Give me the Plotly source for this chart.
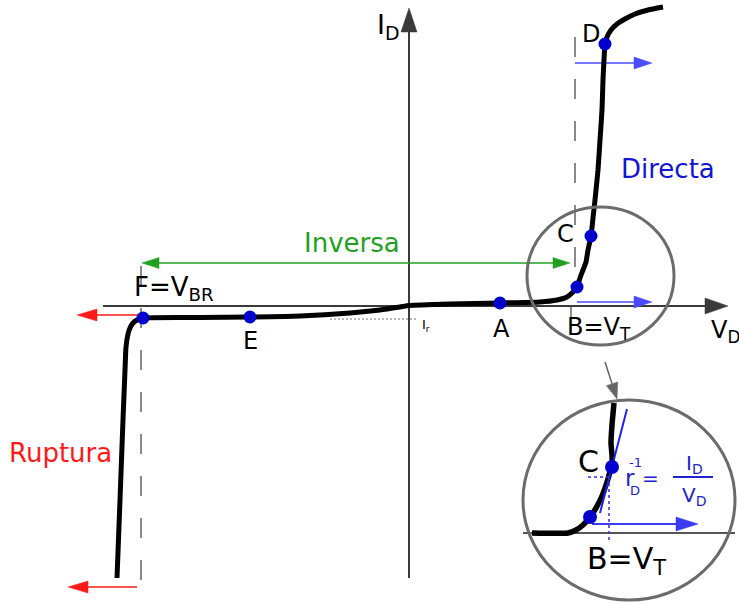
import numpy as np
import plotly.graph_objects as go

# Diagram frame: origin where the V_D and I_D axes cross, 1 unit = 1 px
X_RANGE = [-409, 330]
Y_RANGE = [-298, 306]

# Main diode characteristic (V, I) in diagram units
curve_v = [-292, -289, -286, -284, -283, -281, -279, -276, -272, -266,
           -209, -159, -109, -59, -29, -9, 0, 41, 91, 131, 148, 158, 164,
           168, 171, 174, 177, 179, 182, 184, 186, 189, 191, 193, 194, 195,
           196, 198, 202, 208, 216, 226, 239, 254]
curve_i = [-272, -194, -114, -64, -41, -28, -22, -17, -14, -12,
           -11.5, -11, -10, -7, -4, -1, 0.5, 2, 3, 4, 6, 9, 14,
           19, 28, 36, 44, 56, 70, 88, 106, 136, 166, 196, 226, 246,
           262, 269, 276, 282, 287, 292, 296, 299]

# Named operating points on the characteristic
pt_names = ["F", "E", "A", "B", "C", "D"]
pt_v = [-266, -159, 91, 168, 182, 196]
pt_i = [-12, -11, 3, 19, 70, 262]

# Magnified view of the knee (inset)
inset_v = [123, 159, 167, 174, 181, 187, 193, 198, 201, 203, 203, 202, 203, 205]
inset_i = [-227, -227, -224, -219, -211, -202, -190, -176, -166, -161,
           -149, -137, -119, -97]
inset_pt_v = [181, 203]
inset_pt_i = [-211, -161]
tangent_v = [191, 218]
tangent_i = [-207, -103]

# Arrows: (v0, i0, v1, i1, colour, width, head length, head half-width)
arrows = [
    (-306, 0, 319, 0, "#3a3a3a", 2, 23, 8),          # V_D axis
    (0, -272, 0, 298, "#3a3a3a", 2, 24, 8),          # I_D axis
    (-271, -9, -332, -9, "#ff1a1a", 1.5, 20, 6),     # breakdown arrow
    (-272, -281, -341, -281, "#ff1a1a", 1.5, 20, 6), # breakdown arrow, low
    (166, 243, 243, 243, "#4a4aff", 1.5, 18, 6),     # forward arrow at D
    (168, 4, 243, 4, "#4a4aff", 1.5, 18, 6),         # forward arrow at B
    (183, -218, 289, -218, "#3a3aee", 2, 22, 7),     # inset arrow
    (196, -56, 208, -93, "#666666", 1.5, 16, 6),     # zoom pointer
]
# Two-headed "Inversa" span
inversa_span = (-267, 161, 43)
inversa_color = "#22a022"

# Dashed guides (v, i_low, i_high)
guides = [(-268, -274, 43), (166, 39, 277)]

# Magnifier circles (v0, i0, v1, i1)
circles = [(118, -39, 265, 99), (114, -294, 326, -94)]


def arrow_traces(v0, i0, v1, i1, color, width, hl, hw):
    d = np.array([v1 - v0, i1 - i0], dtype=float)
    L = np.hypot(*d)
    u = d / L
    n = np.array([-u[1], u[0]])
    tip = np.array([v1, i1], dtype=float)
    base = tip - u * hl
    tri = np.array([tip, base + n * hw, base - n * hw, tip])
    return [
        go.Scatter(x=[v0, base[0]], y=[i0, base[1]], mode="lines",
                   line=dict(color=color, width=width), hoverinfo="skip"),
        go.Scatter(x=tri[:, 0], y=tri[:, 1], mode="lines", fill="toself",
                   fillcolor=color, line=dict(color=color, width=0.5),
                   hoverinfo="skip"),
    ]


fig = go.Figure()

# dashed guides
for v, lo, hi in guides:
    fig.add_trace(go.Scatter(x=[v, v], y=[lo, hi], mode="lines",
                             line=dict(color="#8a8a8a", width=2, dash="20px,22px"),
                             hoverinfo="skip"))

# I_r dotted level
fig.add_trace(go.Scatter(x=[-79, 9], y=[-13, -13], mode="lines",
                         line=dict(color="#777777", width=1, dash="2px,2px"),
                         hoverinfo="skip"))

# small tick under B
fig.add_trace(go.Scatter(x=[162, 162], y=[0, -12], mode="lines",
                         line=dict(color="#444444", width=1.2), hoverinfo="skip"))

# arrows
for a in arrows:
    for t in arrow_traces(*a):
        fig.add_trace(t)
lo, hi, lvl = inversa_span
mid = (lo + hi) / 2
for t in arrow_traces(mid, lvl, lo, lvl, inversa_color, 1.5, 17, 5.5):
    fig.add_trace(t)
for t in arrow_traces(mid, lvl, hi, lvl, inversa_color, 1.5, 17, 5.5):
    fig.add_trace(t)

# inset axis line
fig.add_trace(go.Scatter(x=[114, 326], y=[-227, -227], mode="lines",
                         line=dict(color="#555555", width=2), hoverinfo="skip"))

# main characteristic
fig.add_trace(go.Scatter(x=curve_v, y=curve_i, mode="lines",
                         line=dict(color="black", width=5, shape="spline",
                                   smoothing=0.5), hoverinfo="skip"))

# inset characteristic and tangent
fig.add_trace(go.Scatter(x=inset_v, y=inset_i, mode="lines",
                         line=dict(color="black", width=5.5, shape="spline",
                                   smoothing=0.5), hoverinfo="skip"))
fig.add_trace(go.Scatter(x=tangent_v, y=tangent_i, mode="lines",
                         line=dict(color="#2020ee", width=2), hoverinfo="skip"))
fig.add_trace(go.Scatter(x=[179, 200], y=[-171, -171], mode="lines",
                         line=dict(color="#3030dd", width=1.5, dash="3px,3px"),
                         hoverinfo="skip"))
fig.add_trace(go.Scatter(x=[200, 200], y=[-171, -236], mode="lines",
                         line=dict(color="#3030dd", width=1.5, dash="3px,3px"),
                         hoverinfo="skip"))

# operating points
fig.add_trace(go.Scatter(x=pt_v, y=pt_i, mode="markers",
                         marker=dict(color="#0000cc", size=13), hoverinfo="skip"))
fig.add_trace(go.Scatter(x=inset_pt_v, y=inset_pt_i, mode="markers",
                         marker=dict(color="#0000cc", size=14), hoverinfo="skip"))

# magnifier circles
for v0, i0, v1, i1 in circles:
    fig.add_shape(type="circle", x0=v0, x1=v1, y0=i0, y1=i1,
                  line=dict(color="#6b6b6b", width=3), layer="above")

# fraction bar
fig.add_shape(type="line", x0=264, x1=304, y0=-171, y1=-171,
              line=dict(color="#2222cc", width=2))

FONT = "DejaVu Sans"
labels = [
    # text, v, i, size, colour, xanchor
    ("I<sub>D</sub>", -34, 280, 27, "black", "left"),
    ("V<sub>D</sub>", 300, -25, 24, "black", "left"),
    ("D", 182, 272, 24, "black", "center"),
    ("C", 156, 72, 24, "black", "center"),
    ("B=V<sub>T</sub>", 156, -22, 24, "black", "left"),
    ("A", 92, -23, 24, "black", "center"),
    ("E", -159, -35, 24, "black", "center"),
    ("F=V<sub>BR</sub>", -277, 18, 26, "black", "left"),
    ("Directa", 259, 137, 26, "#1414d4", "center"),
    ("Inversa", -57, 63, 26, inversa_color, "center"),
    ("Ruptura", -349, -147, 26, "#ff1a1a", "center"),
    ("I<sub>r</sub>", 11, -19, 13, "black", "left"),
    ("C", 179, -155, 30, "black", "center"),
    ("B=V<sub>T</sub>", 176, -254, 30, "black", "left"),
    ("r", 221, -172, 23, "#2222cc", "center"),
    ("-1", 226, -156, 13, "#2222cc", "center"),
    ("D", 226, -184, 13, "#2222cc", "center"),
    ("=", 241, -172, 20, "#2222cc", "center"),
    ("I<sub>D</sub>", 285, -158, 20, "#2222cc", "center"),
    ("V<sub>D</sub>", 285, -190, 20, "#2222cc", "center"),
]
for txt, v, i, size, color, xa in labels:
    fig.add_annotation(x=v, y=i, text=txt, showarrow=False, xanchor=xa,
                       yanchor="middle",
                       font=dict(family=FONT, size=size, color=color))

fig.update_layout(
    width=739, height=604, margin=dict(l=0, r=0, t=0, b=0),
    paper_bgcolor="white", plot_bgcolor="white", showlegend=False,
    xaxis=dict(range=X_RANGE, visible=False, fixedrange=True),
    yaxis=dict(range=Y_RANGE, visible=False, fixedrange=True),
)

fig.write_html("out.html")
